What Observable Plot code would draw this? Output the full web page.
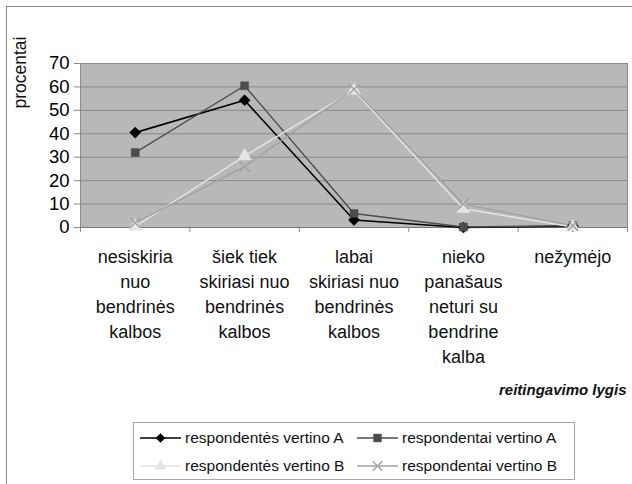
<!DOCTYPE html>
<html>
<head>
<meta charset="utf-8">
<script src="https://cdn.jsdelivr.net/npm/d3@7"></script>
<script src="https://cdn.jsdelivr.net/npm/@observablehq/plot@0.6"></script>
<style>
  html, body { margin: 0; padding: 0; background: #fff; width: 632px; height: 484px; overflow: hidden; }
  body { position: relative; font-family: "Liberation Sans", Arial, sans-serif; }
  #frame { position: absolute; left: 6px; top: 6px; width: 700px; height: 600px; border: 1.5px solid #8a8a8a; box-sizing: border-box; }
  #chart { position: absolute; left: 0; top: 0; }
  #legend { position: absolute; left: 133px; top: 422px; width: 442px; height: 58px; border: 1px solid #a8a8a8; box-sizing: border-box; background: #fff; }
  .item { position: absolute; display: flex; align-items: center; font-size: 15.5px; color: #111; white-space: nowrap; }
  .item svg { margin-right: 4px; }
</style>
</head>
<body>
<div id="frame"></div>
<div id="chart"></div>
<div id="legend"></div>
<script>
const categories = [
  "nesiskiria\nnuo\nbendrinės\nkalbos",
  "šiek tiek\nskiriasi nuo\nbendrinės\nkalbos",
  "labai\nskiriasi nuo\nbendrinės\nkalbos",
  "nieko\npanašaus\nneturi su\nbendrine\nkalba",
  "nežymėjo"
];
const seriesNames = ["respondentės vertino A", "respondentai vertino A", "respondentės vertino B", "respondentai vertino B"];
const respondentesA = [40.5, 54.3, 3.2, 0, 0.6];
const respondentaiA = [32, 60.5, 6, 0.2, 0.8];
const respondentesB = [0.5, 30.5, 58.5, 8, 0.2];
const respondentaiB = [2, 26, 59, 10, 0.8];
const yTicks = [0, 10, 20, 30, 40, 50, 60, 70];

const seriesValues = [respondentesA, respondentaiA, respondentesB, respondentaiB];
const colors = ["#000000", "#4d4d4d", "#e4e4e4", "#a2a2a2"];
const symbols = ["diamond2", "square", "triangle", "times"];

const data = [];
seriesNames.forEach((s, si) => seriesValues[si].forEach((v, i) => data.push({series: s, si, i, value: v})));
const bounds = d3.range(categories.length + 1).map(k => k - 0.5);
const catData = categories.map((c, i) => ({i, label: c}));

const marks = [
  Plot.frame({fill: "#b8b8b8", stroke: "#8c8c8c"}),
  Plot.gridY(yTicks, {stroke: "#8a8a8a", strokeOpacity: 1, strokeWidth: 1}),
  Plot.axisY(yTicks, {tickSize: 6, tickPadding: 5, fontSize: 18.5, stroke: "#8a8a8a", label: null, fill: "#000"}),
  Plot.axisX(bounds, {tickSize: 5, tickFormat: () => "", stroke: "#8a8a8a", label: null}),
  Plot.ruleY([0], {stroke: "#7a7a7a"})
];
seriesNames.forEach((s, si) => {
  const d = data.filter(r => r.si === si);
  marks.push(Plot.line(d, {x: "i", y: "value", stroke: colors[si], strokeWidth: si === 0 ? 1.6 : 1.4}));
});
seriesNames.forEach((s, si) => {
  const d = data.filter(r => r.si === si);
  if (symbols[si] === "times") {
    marks.push(Plot.dot(d, {x: "i", y: "value", symbol: "times", stroke: colors[si], strokeWidth: 1.4, r: 4.8}));
  } else {
    marks.push(Plot.dot(d, {x: "i", y: "value", symbol: symbols[si], fill: colors[si], stroke: colors[si], strokeWidth: 0.5,
      r: symbols[si] === "square" ? 4.5 : symbols[si] === "diamond2" ? 5 : 5}));
  }
});
marks.push(
  Plot.text(catData, {x: "i", y: () => 0, text: "label", lineAnchor: "top", dy: 18, fontSize: 18, lineHeight: 1.39, fill: "#111"}),
  Plot.text(["procentai"], {frameAnchor: "top-left", dx: -60, dy: 9, rotate: -90, fontSize: 17.5, textAnchor: "middle", lineAnchor: "middle", fill: "#111"}),
  Plot.text(["reitingavimo lygis"], {frameAnchor: "bottom-right", dx: -1, dy: 163, fontSize: 15, fontWeight: "bold", fontStyle: "italic", textAnchor: "end", lineAnchor: "middle", fill: "#111"})
);

const chart = Plot.plot({
  width: 632,
  height: 412,
  marginLeft: 80,
  marginRight: 5,
  marginTop: 63,
  marginBottom: 185,
  style: {fontFamily: "'Liberation Sans', Arial, sans-serif", background: "transparent", overflow: "visible"},
  x: {type: "linear", domain: [-0.5, categories.length - 0.5], axis: null},
  y: {domain: [0, 70], axis: null},
  marks
});
document.getElementById("chart").appendChild(chart);

// legend
const legend = document.getElementById("legend");
const pos = [[6, 15], [223, 15], [6, 43], [223, 43]];
seriesNames.forEach((s, si) => {
  const item = document.createElement("div");
  item.className = "item";
  item.style.left = pos[si][0] + "px";
  item.style.top = (pos[si][1] - 9) + "px";
  const ns = "http://www.w3.org/2000/svg";
  const svg = document.createElementNS(ns, "svg");
  svg.setAttribute("width", 41); svg.setAttribute("height", 18);
  const line = document.createElementNS(ns, "line");
  line.setAttribute("x1", 0); line.setAttribute("x2", 41); line.setAttribute("y1", 9); line.setAttribute("y2", 9);
  line.setAttribute("stroke", colors[si]); line.setAttribute("stroke-width", 1.4);
  svg.appendChild(line);
  const sym = {diamond2: d3.symbolDiamond2, square: d3.symbolSquare, triangle: d3.symbolTriangle, times: d3.symbolTimes}[symbols[si]];
  const p = document.createElementNS(ns, "path");
  const size = symbols[si] === "square" ? 70 : 60;
  p.setAttribute("d", d3.symbol(sym, size)());
  p.setAttribute("transform", "translate(20.5,9)");
  if (symbols[si] === "times") { p.setAttribute("fill", "none"); p.setAttribute("stroke", colors[si]); p.setAttribute("stroke-width", 1.4); }
  else { p.setAttribute("fill", colors[si]); }
  svg.appendChild(p);
  item.appendChild(svg);
  const t = document.createElement("span");
  t.textContent = s;
  item.appendChild(t);
  legend.appendChild(item);
});
</script>
</body>
</html>
